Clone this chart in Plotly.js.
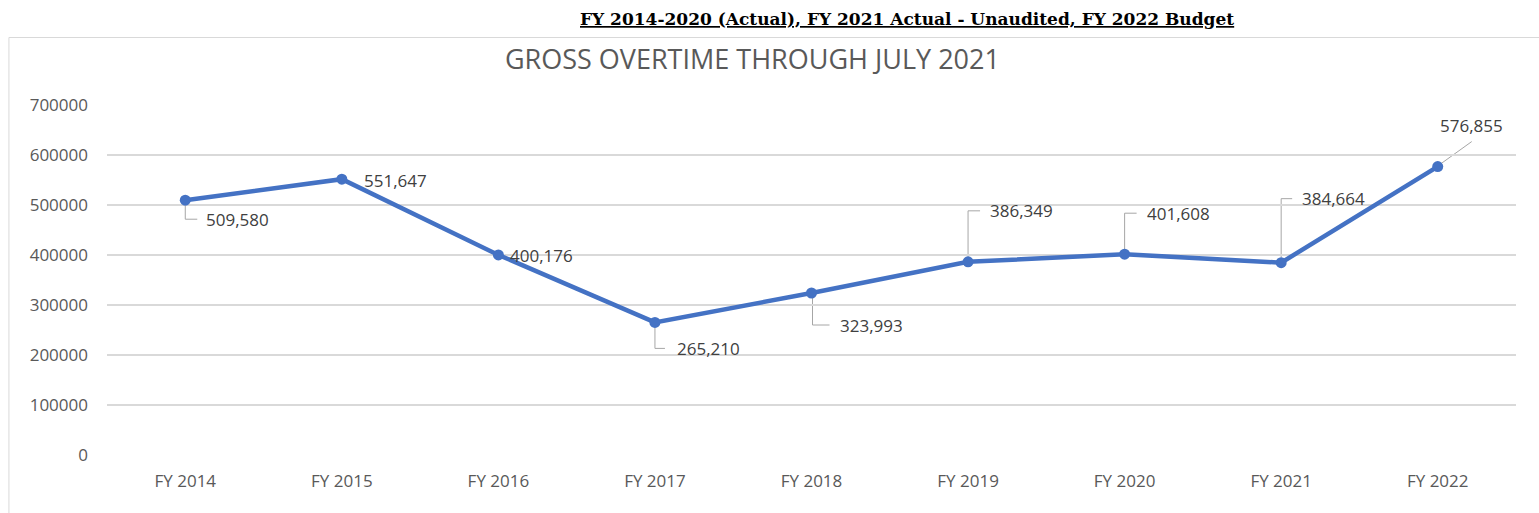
<!DOCTYPE html>
<html>
<head>
<meta charset="utf-8">
<script src="https://cdn.plot.ly/plotly-3.0.1.min.js"></script>
<style>
html,body{margin:0;padding:0;background:#fff;}
#chart{width:1539px;height:513px;}
</style>
</head>
<body>
<div id="chart"></div>
<script>
// ---- data ----
const categories = ["FY 2014","FY 2015","FY 2016","FY 2017","FY 2018","FY 2019","FY 2020","FY 2021","FY 2022"];
const overtime = [509580, 551647, 400176, 265210, 323993, 386349, 401608, 384664, 576855];
const yTickValues = [0,100000,200000,300000,400000,500000,600000,700000];
const chartTitle = "GROSS OVERTIME THROUGH JULY 2021";
const headerText = "FY 2014-2020 (Actual), FY 2021 Actual - Unaudited, FY 2022 Budget";

// ---- label placement (pixel offsets from each point) ----
// [label dx, label dy (up +), leader path or null, xanchor]
const labelPlacement = [
  [19, -19, "M0,-5 V-19 H12", "left"],
  [20, -1, null, "left"],
  [10, -1, null, "left"],
  [20, -26, "M0,-5 V-26 H10", "left"],
  [26, -32, "M1,-5 V-32 H18", "left"],
  [20, 51, "M0,5 V51 H12", "left"],
  [20, 41, "M0,5 V41 H12", "left"],
  [19, 64, "M0,5 V64 H11", "left"],
  [34, 41, "M2,2 L34,25", "center"]
];

const fmt = v => v.toLocaleString("en-US");
const labelFont = {family: "Open Sans", size: 17, color: "#404040"};

const annotations = [];
const shapes = [];
categories.forEach((c, i) => {
  const p = labelPlacement[i];
  annotations.push({
    xref: "x", yref: "y", x: c, y: overtime[i],
    text: fmt(overtime[i]), showarrow: false,
    xanchor: p[3], yanchor: "middle",
    xshift: p[0], yshift: p[1],
    font: labelFont
  });
  if (p[2]) {
    shapes.push({
      type: "path", xref: "x", yref: "y",
      xsizemode: "pixel", ysizemode: "pixel",
      xanchor: c, yanchor: overtime[i],
      path: p[2],
      line: {color: "#a6a6a6", width: 1},
      layer: "below"
    });
  }
});

// outer chart border
shapes.push({
  type: "rect", xref: "paper", yref: "paper",
  x0: -0.0696, x1: 1.05, y0: -0.3, y1: 1.1929,
  line: {color: "#d9d9d9", width: 1}, fillcolor: "rgba(0,0,0,0)", layer: "below"
});

// header text
annotations.push({
  xref: "paper", yref: "paper", x: 0.5678, y: 1.2457,
  xanchor: "center", yanchor: "middle", showarrow: false,
  text: "<b>" + headerText + "</b>",
  font: {family: "DejaVu Serif", size: 17, color: "#000000", lineposition: "under"}
});

const trace = {
  type: "scatter", mode: "lines+markers",
  x: categories, y: overtime,
  line: {color: "#4472C4", width: 4.5},
  marker: {color: "#4472C4", size: 11},
  hoverinfo: "x+y"
};

const layout = {
  width: 1539, height: 513,
  margin: {l: 107, r: 23, t: 105, b: 58},
  paper_bgcolor: "#ffffff", plot_bgcolor: "#ffffff",
  showlegend: false,
  title: {
    text: chartTitle,
    x: 0.4889, xref: "container", xanchor: "center",
    y: 0.883, yref: "container", yanchor: "middle",
    font: {family: "Open Sans", size: 27, color: "#595959"}
  },
  xaxis: {
    type: "category",
    showgrid: false, zeroline: false, showline: false,
    ticks: "", ticklabelstandoff: 14,
    tickfont: {family: "Open Sans", size: 17, color: "#595959"},
    range: [-0.5, 8.5]
  },
  yaxis: {
    range: [0, 700000],
    tickvals: yTickValues,
    ticktext: yTickValues.map(String),
    showgrid: true, gridcolor: "#d9d9d9", gridwidth: 1.3,
    zeroline: false, showline: false, ticks: "",
    ticklabelstandoff: 18,
    tickfont: {family: "Open Sans", size: 17, color: "#595959"}
  },
  annotations: annotations,
  shapes: shapes
};

Plotly.newPlot("chart", [trace], layout, {displayModeBar: false, staticPlot: true});
</script>
</body>
</html>
